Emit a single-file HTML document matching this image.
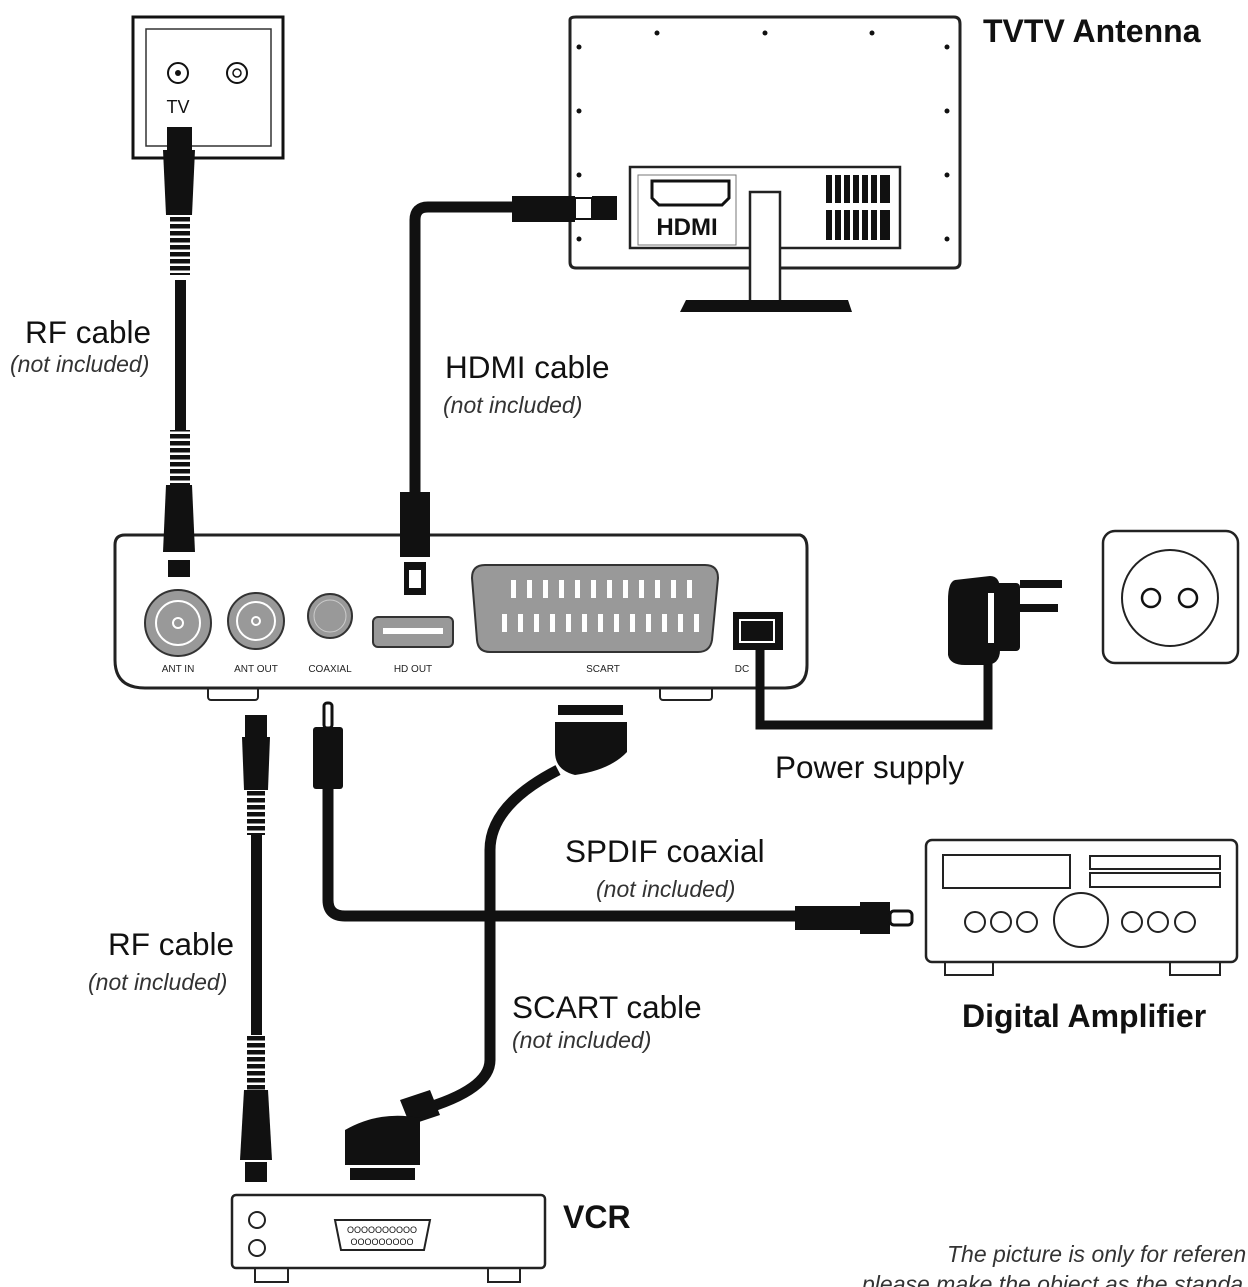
<!DOCTYPE html>
<html><head><meta charset="utf-8"><style>
html,body{margin:0;padding:0;background:#fff;}
svg{display:block;}
text{font-family:"Liberation Sans",sans-serif;fill:#111;}
.lab{font-size:31.5px;}
.it{font-size:23px;font-style:italic;fill:#333;}
.b{font-size:32px;font-weight:bold;}
.sm{font-size:10px;fill:#222;}
</style></head><body>
<svg width="1248" height="1287" viewBox="0 0 1248 1287" xmlns="http://www.w3.org/2000/svg">
<defs>
<pattern id="rib" width="6" height="7" patternUnits="userSpaceOnUse"><rect width="6" height="4.5" fill="#111"/><rect y="4.5" width="6" height="2.5" fill="#fff"/></pattern>
</defs>
<!-- wall plate -->
<rect x="133" y="17" width="150" height="141" fill="#fff" stroke="#111" stroke-width="3"/>
<rect x="146" y="29" width="125" height="117" fill="#fff" stroke="#333" stroke-width="1.5"/>
<circle cx="178" cy="73" r="10" fill="#fff" stroke="#111" stroke-width="2"/><circle cx="178" cy="73" r="3" fill="#111"/>
<circle cx="237" cy="73" r="10" fill="#fff" stroke="#111" stroke-width="2"/><circle cx="237" cy="73" r="4" fill="none" stroke="#111" stroke-width="1.5"/>
<text x="178" y="113" font-size="18" text-anchor="middle">TV</text>
<!-- top RF cable -->
<rect x="175" y="280" width="11" height="150" fill="#111"/>
<rect x="167" y="127" width="25" height="25" fill="#111"/>
<path d="M163 150 H195 L192 215 H166 Z" fill="#111"/>
<rect x="170" y="215" width="20" height="60" fill="url(#rib)"/>
<text x="25" y="343" class="lab">RF cable</text>
<text x="10" y="372" class="it">(not included)</text>
<!-- TV -->
<path d="M570 20 Q570 17 576 17 H954 Q960 17 960 24 V262 Q960 268 954 268 H576 Q570 268 570 262 Z" fill="#fff" stroke="#222" stroke-width="3"/>
<g fill="#111"><circle cx="657" cy="33" r="2.5"/><circle cx="765" cy="33" r="2.5"/><circle cx="872" cy="33" r="2.5"/>
<circle cx="579" cy="47" r="2.5"/><circle cx="579" cy="111" r="2.5"/><circle cx="579" cy="175" r="2.5"/><circle cx="579" cy="239" r="2.5"/>
<circle cx="947" cy="47" r="2.5"/><circle cx="947" cy="111" r="2.5"/><circle cx="947" cy="175" r="2.5"/><circle cx="947" cy="239" r="2.5"/></g>
<rect x="630" y="167" width="270" height="81" fill="#fff" stroke="#222" stroke-width="2.5"/>
<rect x="638" y="175" width="98" height="70" fill="#fff" stroke="#777" stroke-width="1"/>
<path d="M652 181 H729 V198 L722 205 H659 L652 198 Z" fill="none" stroke="#111" stroke-width="3"/>
<text x="687" y="235" font-size="24" font-weight="bold" text-anchor="middle">HDMI</text>
<g fill="#111"><rect x="826" y="175" width="64" height="28"/><rect x="826" y="210" width="64" height="30"/></g>
<g fill="#fff"><rect x="832" y="175" width="3" height="65"/><rect x="841" y="175" width="3" height="65"/><rect x="850" y="175" width="3" height="65"/><rect x="859" y="175" width="3" height="65"/><rect x="868" y="175" width="3" height="65"/><rect x="877" y="175" width="3" height="65"/></g>
<rect x="750" y="192" width="30" height="113" fill="#fff" stroke="#222" stroke-width="2.5"/>
<path d="M686 300 H848 L852 312 H680 Z" fill="#111"/>
<text x="983" y="42" class="b">TVTV Antenna</text>
<!-- HDMI cable -->
<path d="M415 495 V220 Q415 207 428 207 H520" fill="none" stroke="#111" stroke-width="11"/>
<path d="M512 196 H575 V222 H512 Z" fill="#111"/>
<rect x="575" y="198" width="17" height="21" fill="#fff" stroke="#111" stroke-width="2"/>
<rect x="592" y="196" width="25" height="24" fill="#111"/>
<text x="445" y="378" class="lab">HDMI cable</text>
<text x="443" y="413" class="it">(not included)</text>
<!-- STB -->
<rect x="208" y="680" width="50" height="20" rx="3" fill="#fff" stroke="#222" stroke-width="2"/>
<rect x="660" y="680" width="52" height="20" rx="3" fill="#fff" stroke="#222" stroke-width="2"/>
<path d="M125 535 H800 Q807 537 807 548 V665 Q807 688 785 688 H145 Q115 688 115 660 V545 Q115 535 125 535 Z" fill="#fff" stroke="#222" stroke-width="3"/>
<!-- connectors over box -->
<rect x="170" y="430" width="20" height="55" fill="url(#rib)"/>
<path d="M166 485 H192 L195 552 H163 Z" fill="#111"/>
<rect x="168" y="560" width="22" height="17" fill="#111"/>
<rect x="400" y="492" width="30" height="65" fill="#111"/>
<rect x="406" y="575" width="12" height="8" fill="none" stroke="#fff" stroke-width="1.5"/>
<rect x="404" y="562" width="22" height="33" fill="#111"/>
<rect x="409" y="570" width="12" height="18" fill="#fff"/>
<circle cx="178" cy="623" r="33" fill="#999" stroke="#333" stroke-width="2"/><circle cx="178" cy="623" r="22" fill="none" stroke="#fff" stroke-width="2"/><circle cx="178" cy="623" r="5" fill="none" stroke="#fff" stroke-width="2"/>
<circle cx="256" cy="621" r="28" fill="#999" stroke="#333" stroke-width="2"/><circle cx="256" cy="621" r="19" fill="none" stroke="#fff" stroke-width="2"/><circle cx="256" cy="621" r="4" fill="none" stroke="#fff" stroke-width="2"/>
<circle cx="330" cy="616" r="22" fill="#999" stroke="#333" stroke-width="2"/><circle cx="330" cy="616" r="16" fill="none" stroke="#ccc" stroke-width="1"/>
<rect x="373" y="617" width="80" height="30" rx="5" fill="#999" stroke="#333" stroke-width="2"/><rect x="383" y="628" width="60" height="6" fill="#fff"/>
<path d="M485 565 H705 Q718 565 718 578 L712 640 Q710 652 698 652 H490 Q478 652 477 640 L472 578 Q472 565 485 565 Z" fill="#999" stroke="#333" stroke-width="2"/>
<g fill="#fff">
<rect x="511" y="580" width="5" height="18"/><rect x="527" y="580" width="5" height="18"/><rect x="543" y="580" width="5" height="18"/><rect x="559" y="580" width="5" height="18"/><rect x="575" y="580" width="5" height="18"/><rect x="591" y="580" width="5" height="18"/><rect x="607" y="580" width="5" height="18"/><rect x="623" y="580" width="5" height="18"/><rect x="639" y="580" width="5" height="18"/><rect x="655" y="580" width="5" height="18"/><rect x="671" y="580" width="5" height="18"/><rect x="687" y="580" width="5" height="18"/>
<rect x="502" y="614" width="5" height="18"/><rect x="518" y="614" width="5" height="18"/><rect x="534" y="614" width="5" height="18"/><rect x="550" y="614" width="5" height="18"/><rect x="566" y="614" width="5" height="18"/><rect x="582" y="614" width="5" height="18"/><rect x="598" y="614" width="5" height="18"/><rect x="614" y="614" width="5" height="18"/><rect x="630" y="614" width="5" height="18"/><rect x="646" y="614" width="5" height="18"/><rect x="662" y="614" width="5" height="18"/><rect x="678" y="614" width="5" height="18"/><rect x="694" y="614" width="5" height="18"/></g>
<rect x="733" y="612" width="50" height="38" fill="#111"/><rect x="740" y="620" width="34" height="22" fill="none" stroke="#fff" stroke-width="2"/>
<text x="178" y="672" class="sm" text-anchor="middle">ANT IN</text>
<text x="256" y="672" class="sm" text-anchor="middle">ANT OUT</text>
<text x="330" y="672" class="sm" text-anchor="middle">COAXIAL</text>
<text x="413" y="672" class="sm" text-anchor="middle">HD OUT</text>
<text x="603" y="672" class="sm" text-anchor="middle">SCART</text>
<text x="742" y="672" class="sm" text-anchor="middle">DC</text>
<!-- power -->
<path d="M760 645 V725 H988 V660" fill="none" stroke="#111" stroke-width="9"/>
<path d="M955 580 Q948 582 948 600 V655 Q950 665 965 665 H985 Q1000 665 1000 650 V590 Q1000 576 990 576 Z" fill="#111"/>
<rect x="988" y="593" width="20" height="50" fill="#fff"/><rect x="994" y="583" width="26" height="68" rx="4" fill="#111"/>
<rect x="1020" y="580" width="42" height="8" fill="#111"/><rect x="1020" y="604" width="38" height="8" fill="#111"/>
<rect x="1103" y="531" width="135" height="132" rx="12" fill="#fff" stroke="#222" stroke-width="2.5"/>
<circle cx="1170" cy="598" r="48" fill="#fff" stroke="#222" stroke-width="2"/>
<circle cx="1151" cy="598" r="9" fill="#fff" stroke="#111" stroke-width="2.5"/><circle cx="1188" cy="598" r="9" fill="#fff" stroke="#111" stroke-width="2.5"/>
<text x="775" y="778" class="lab">Power supply</text>
<!-- lower RF -->
<rect x="251" y="830" width="11" height="205" fill="#111"/>
<rect x="245" y="715" width="22" height="22" fill="#111"/>
<path d="M242 737 H270 L268 790 H244 Z" fill="#111"/>
<rect x="247" y="790" width="18" height="45" fill="url(#rib)"/>
<rect x="247" y="1035" width="18" height="55" fill="url(#rib)"/>
<path d="M244 1090 H268 L272 1160 H240 Z" fill="#111"/>
<rect x="245" y="1162" width="22" height="20" fill="#111"/>
<text x="108" y="955" class="lab">RF cable</text>
<text x="88" y="990" class="it">(not included)</text>
<!-- SPDIF -->
<path d="M328 785 V900 Q328 916 345 916 H800" fill="none" stroke="#111" stroke-width="11"/>
<rect x="324" y="703" width="8" height="25" rx="3" fill="#fff" stroke="#111" stroke-width="3"/>
<rect x="313" y="727" width="30" height="62" rx="3" fill="#111"/>
<path d="M795 906 H860 V930 H795 Z" fill="#111"/>
<rect x="860" y="902" width="30" height="32" fill="#111"/>
<rect x="890" y="911" width="22" height="14" rx="4" fill="#fff" stroke="#111" stroke-width="3"/>
<text x="565" y="862" class="lab">SPDIF coaxial</text>
<text x="596" y="897" class="it">(not included)</text>
<!-- SCART -->
<path d="M558 770 Q490 805 490 850 V1060 Q490 1090 420 1110" fill="none" stroke="#111" stroke-width="11"/>
<rect x="558" y="705" width="65" height="10" fill="#111"/>
<path d="M555 722 H627 V752 Q610 770 575 775 Q555 770 555 752 Z" fill="#111"/>
<path d="M400 1100 L430 1090 L440 1115 L410 1125 Z" fill="#111"/>
<path d="M345 1130 Q380 1110 420 1118 V1165 H345 Z" fill="#111"/>
<rect x="350" y="1168" width="65" height="12" fill="#111"/>
<text x="512" y="1018" class="lab">SCART cable</text>
<text x="512" y="1048" class="it">(not included)</text>
<!-- amplifier -->
<rect x="945" y="958" width="48" height="17" fill="#fff" stroke="#222" stroke-width="2"/>
<rect x="1170" y="958" width="50" height="17" fill="#fff" stroke="#222" stroke-width="2"/>
<rect x="926" y="840" width="311" height="122" rx="6" fill="#fff" stroke="#222" stroke-width="2.5"/>
<rect x="943" y="855" width="127" height="33" fill="#fff" stroke="#222" stroke-width="2"/>
<rect x="1090" y="856" width="130" height="13" fill="#fff" stroke="#222" stroke-width="2"/>
<rect x="1090" y="873" width="130" height="14" fill="#fff" stroke="#222" stroke-width="2"/>
<g fill="#fff" stroke="#222" stroke-width="2"><circle cx="975" cy="922" r="10"/><circle cx="1001" cy="922" r="10"/><circle cx="1027" cy="922" r="10"/><circle cx="1081" cy="920" r="27"/><circle cx="1132" cy="922" r="10"/><circle cx="1158" cy="922" r="10"/><circle cx="1185" cy="922" r="10"/></g>
<text x="962" y="1027" class="b">Digital Amplifier</text>
<!-- VCR -->
<rect x="255" y="1265" width="33" height="17" fill="#fff" stroke="#222" stroke-width="2"/>
<rect x="488" y="1265" width="32" height="17" fill="#fff" stroke="#222" stroke-width="2"/>
<rect x="232" y="1195" width="313" height="73" rx="4" fill="#fff" stroke="#222" stroke-width="2.5"/>
<circle cx="257" cy="1220" r="8" fill="#fff" stroke="#222" stroke-width="2"/><circle cx="257" cy="1248" r="8" fill="#fff" stroke="#222" stroke-width="2"/>
<path d="M335 1220 H430 L424 1250 H341 Z" fill="#fff" stroke="#222" stroke-width="2"/>
<text x="382" y="1233" font-size="9" text-anchor="middle" fill="#333">OOOOOOOOOO</text>
<text x="382" y="1245" font-size="9" text-anchor="middle" fill="#333">OOOOOOOOO</text>
<text x="563" y="1228" class="b">VCR</text>
<text x="947" y="1262" class="it" fill="#222">The picture is only for referen</text>
<text x="862" y="1292" class="it" fill="#222">please make the object as the standa</text>
</svg>
</body></html>
